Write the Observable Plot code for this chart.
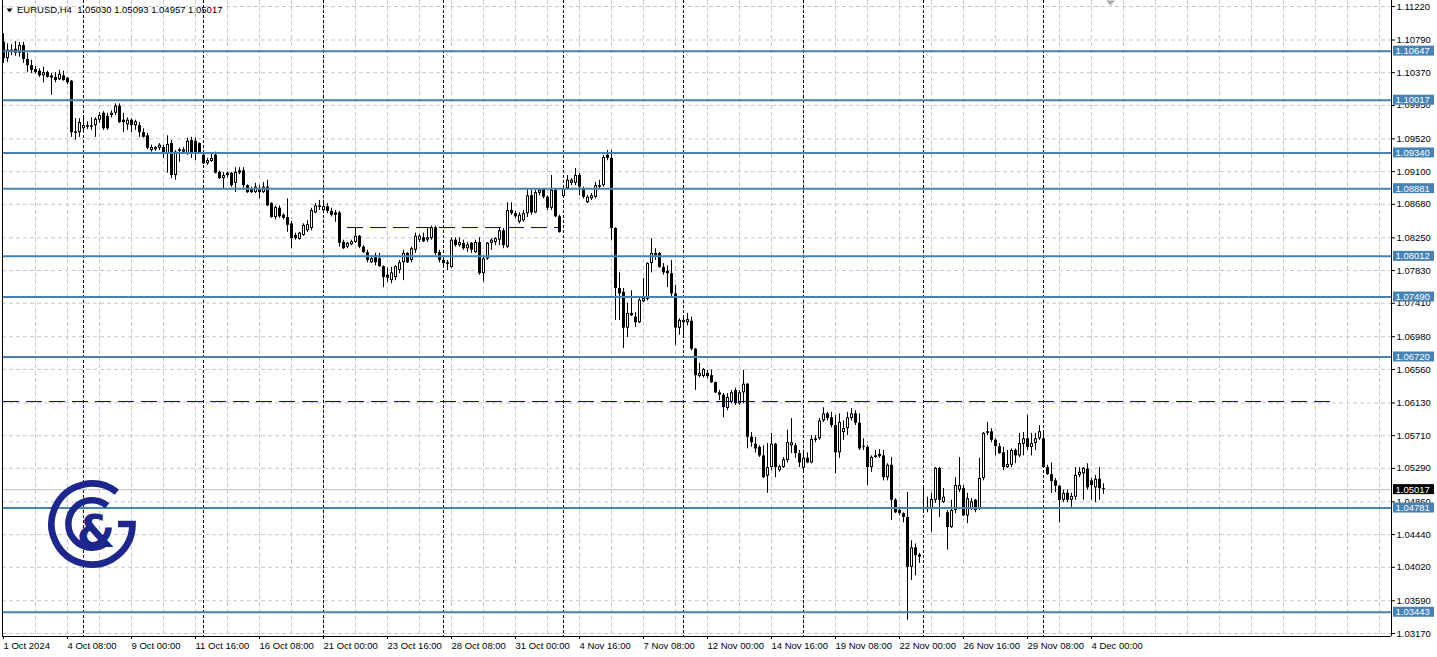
<!DOCTYPE html>
<html><head><meta charset="utf-8">
<script src="https://cdn.jsdelivr.net/npm/d3@7"></script>
<script src="https://cdn.jsdelivr.net/npm/@observablehq/plot@0.6"></script>
<style>
html,body{margin:0;padding:0;background:#fff;}
#chart svg{display:block;}
</style>
</head><body><div id="chart"></div>
<script>
// ---- data: EURUSD H4 candles (bar 0 = 1 Oct 2024) ----
const open = [
1.1076,1.1055,1.1063,1.1067,1.1062,1.1072,1.1054,1.1046,1.1041,1.1039,
1.1033,1.1037,1.1033,1.1031,1.1028,1.1033,1.1030,1.1026,1.0961,1.0960,
1.0965,1.0969,1.0969,1.0969,1.0976,1.0985,1.0981,1.0982,1.0985,1.0994,
1.0976,1.0970,1.0976,1.0969,1.0969,1.0960,1.0956,1.0937,1.0938,1.0940,
1.0941,1.0933,1.0946,1.0905,1.0936,1.0935,1.0933,1.0950,1.0949,1.0946,
1.0931,1.0920,1.0923,1.0931,1.0909,1.0901,1.0908,1.0908,1.0895,1.0911,
1.0911,1.0892,1.0888,1.0883,1.0888,1.0883,1.0890,1.0869,1.0851,1.0863,
1.0854,1.0851,1.0843,1.0828,1.0823,1.0828,1.0834,1.0837,1.0857,1.0866,
1.0860,1.0865,1.0859,1.0857,1.0857,1.0819,1.0813,1.0816,1.0819,1.0827,
1.0813,1.0806,1.0793,1.0802,1.0798,1.0788,1.0777,1.0770,1.0774,1.0783,
1.0793,1.0805,1.0796,1.0809,1.0822,1.0825,1.0822,1.0824,1.0838,1.0806,
1.0796,1.0793,1.0787,1.0822,1.0815,1.0818,1.0811,1.0818,1.0806,1.0819,
1.0779,1.0798,1.0818,1.0819,1.0822,1.0834,1.0813,1.0860,1.0856,1.0845,
1.0847,1.0856,1.0879,1.0857,1.0882,1.0887,1.0877,1.0863,1.0886,1.0852,
1.0878,1.0888,1.0895,1.0895,1.0905,1.0888,1.0870,1.0875,1.0877,1.0890,
1.0892,1.0931,1.0927,1.0837,1.0760,1.0755,1.0709,1.0728,1.0723,1.0716,
1.0743,1.0746,1.0792,1.0802,1.0805,1.0787,1.0782,1.0779,1.0753,1.0709,
1.0716,1.0716,1.0718,1.0682,1.0647,1.0647,1.0651,1.0648,1.0639,1.0626,
1.0623,1.0606,1.0614,1.0629,1.0612,1.0626,1.0637,1.0569,1.0560,1.0556,
1.0545,1.0519,1.0530,1.0560,1.0526,1.0530,1.0539,1.0558,1.0558,1.0548,
1.0529,1.0542,1.0536,1.0565,1.0567,1.0590,1.0599,1.0594,1.0584,1.0549,
1.0575,1.0580,1.0593,1.0599,1.0587,1.0557,1.0556,1.0530,1.0543,1.0547,
1.0545,1.0517,1.0533,1.0488,1.0475,1.0471,1.0466,1.0402,1.0427,1.0418,
1.0477,1.0479,1.0477,1.0488,1.0529,1.0485,1.0472,1.0453,1.0475,1.0501,
1.0503,1.0468,1.0477,1.0488,1.0477,1.0516,1.0574,1.0576,1.0565,1.0557,
1.0549,1.0530,1.0533,1.0552,1.0545,1.0560,1.0567,1.0556,1.0561,1.0567,
1.0567,1.0530,1.0521,1.0513,1.0506,1.0488,1.0497,1.0488,1.0492,1.0520,
1.0522,1.0528,1.0513,1.0504,1.0515,1.05030];
const high = [
1.1087,1.1074,1.1073,1.1077,1.1076,1.1076,1.1062,1.1053,1.1045,1.1042,
1.1044,1.1039,1.1036,1.1037,1.1040,1.1039,1.1031,1.1027,1.0978,1.0978,
1.0982,1.0974,1.0979,1.0979,1.0986,1.0987,1.0985,1.0988,1.0997,1.0997,
1.0985,1.0979,1.0978,1.0976,1.0973,1.0965,1.0959,1.0944,1.0942,1.0946,
1.0944,1.0956,1.0950,1.0937,1.0940,1.0941,1.0953,1.0954,1.0953,1.0947,
1.0935,1.0927,1.0933,1.0935,1.0911,1.0909,1.0909,1.0909,1.0915,1.0915,
1.0915,1.0893,1.0890,1.0895,1.0892,1.0896,1.0899,1.0870,1.0866,1.0866,
1.0856,1.0875,1.0846,1.0831,1.0832,1.0843,1.0847,1.0863,1.0869,1.0873,
1.0872,1.0869,1.0863,1.0860,1.0859,1.0822,1.0819,1.0822,1.0838,1.0828,
1.0815,1.0809,1.0802,1.0805,1.0805,1.0789,1.0786,1.0787,1.0789,1.0796,
1.0809,1.0806,1.0813,1.0831,1.0829,1.0831,1.0837,1.0840,1.0840,1.0809,
1.0800,1.0796,1.0825,1.0825,1.0825,1.0822,1.0819,1.0819,1.0822,1.0825,
1.0800,1.0819,1.0824,1.0825,1.0837,1.0837,1.0870,1.0870,1.0859,1.0857,
1.0860,1.0888,1.0886,1.0886,1.0888,1.0888,1.0879,1.0905,1.0888,1.0854,
1.0892,1.0905,1.0901,1.0914,1.0908,1.0890,1.0879,1.0882,1.0896,1.0899,
1.0931,1.0937,1.0937,1.0838,1.0780,1.0760,1.0741,1.0757,1.0729,1.0747,
1.0773,1.0793,1.0824,1.0811,1.0806,1.0792,1.0789,1.0796,1.0764,1.0721,
1.0723,1.0728,1.0723,1.0683,1.0664,1.0657,1.0655,1.0655,1.0640,1.0629,
1.0625,1.0625,1.0629,1.0632,1.0629,1.0655,1.0638,1.0575,1.0569,1.0558,
1.0558,1.0561,1.0574,1.0561,1.0533,1.0543,1.0578,1.0593,1.0561,1.0552,
1.0549,1.0549,1.0571,1.0571,1.0593,1.0607,1.0601,1.0601,1.0597,1.0599,
1.0590,1.0601,1.0606,1.0603,1.0599,1.0567,1.0558,1.0545,1.0552,1.0553,
1.0552,1.0535,1.0543,1.0490,1.0477,1.0472,1.0498,1.0436,1.0432,1.0420,
1.0504,1.0492,1.0497,1.0530,1.0530,1.0503,1.0475,1.0488,1.0517,1.0543,
1.0507,1.0497,1.0490,1.0489,1.0542,1.0575,1.0588,1.0580,1.0567,1.0561,
1.0556,1.0552,1.0554,1.0554,1.0574,1.0575,1.0597,1.0574,1.0574,1.0584,
1.0574,1.0533,1.0536,1.0516,1.0507,1.0501,1.0501,1.0497,1.0530,1.0530,
1.0530,1.0535,1.0516,1.0520,1.0530,1.05093];
const low = [
1.1049,1.1050,1.1059,1.1058,1.1057,1.1049,1.1037,1.1036,1.1035,1.1031,
1.1024,1.1030,1.1008,1.1024,1.1027,1.1026,1.1022,1.0954,1.0950,1.0954,
1.0959,1.0964,1.0963,1.0954,1.0972,1.0963,1.0963,1.0979,1.0982,1.0972,
1.0960,1.0963,1.0960,1.0963,1.0954,1.0953,1.0938,1.0935,1.0936,1.0937,
1.0927,1.0908,1.0901,1.0899,1.0922,1.0932,1.0931,1.0927,1.0924,1.0932,
1.0919,1.0918,1.0922,1.0907,1.0900,1.0888,1.0902,1.0890,1.0883,1.0906,
1.0888,1.0882,1.0882,1.0882,1.0875,1.0882,1.0865,1.0850,1.0848,1.0850,
1.0848,1.0832,1.0811,1.0822,1.0822,1.0827,1.0832,1.0834,1.0856,1.0860,
1.0857,1.0856,1.0852,1.0845,1.0813,1.0810,1.0811,1.0815,1.0818,1.0811,
1.0805,1.0793,1.0792,1.0789,1.0787,1.0761,1.0768,1.0766,1.0770,1.0779,
1.0770,1.0792,1.0793,1.0805,1.0819,1.0819,1.0819,1.0822,1.0802,1.0793,
1.0786,1.0783,1.0786,1.0813,1.0813,1.0809,1.0806,1.0805,1.0805,1.0777,
1.0768,1.0796,1.0809,1.0815,1.0815,1.0811,1.0811,1.0854,1.0850,1.0843,
1.0845,1.0851,1.0854,1.0856,1.0879,1.0875,1.0860,1.0860,1.0851,1.0831,
1.0877,1.0886,1.0892,1.0892,1.0879,1.0875,1.0869,1.0873,1.0875,1.0888,
1.0890,1.0924,1.0822,1.0719,1.0719,1.0683,1.0697,1.0724,1.0710,1.0715,
1.0742,1.0744,1.0780,1.0796,1.0786,1.0777,1.0761,1.0747,1.0687,1.0700,
1.0700,1.0712,1.0680,1.0629,1.0645,1.0645,1.0644,1.0638,1.0625,1.0616,
1.0594,1.0603,1.0612,1.0610,1.0610,1.0612,1.0554,1.0556,1.0549,1.0543,
1.0516,1.0497,1.0526,1.0517,1.0524,1.0529,1.0536,1.0548,1.0542,1.0530,
1.0526,1.0535,1.0535,1.0562,1.0565,1.0588,1.0590,1.0581,1.0522,1.0542,
1.0565,1.0571,1.0590,1.0584,1.0552,1.0552,1.0507,1.0524,1.0542,1.0542,
1.0513,1.0513,1.0462,1.0471,1.0468,1.0459,1.0334,1.0385,1.0391,1.0407,
1.0475,1.0472,1.0447,1.0484,1.0466,1.0484,1.0424,1.0452,1.0471,1.0498,
1.0467,1.0458,1.0475,1.0472,1.0475,1.0513,1.0571,1.0562,1.0545,1.0547,
1.0526,1.0529,1.0530,1.0535,1.0543,1.0545,1.0552,1.0545,1.0552,1.0565,
1.0529,1.0520,1.0497,1.0498,1.0459,1.0485,1.0485,1.0479,1.0488,1.0517,
1.0488,1.0501,1.0488,1.0485,1.0488,1.04957];
const close = [
1.1055,1.1066,1.1066,1.1062,1.1072,1.1054,1.1046,1.1040,1.1037,1.1033,
1.1037,1.1031,1.1030,1.1027,1.1035,1.1027,1.1024,1.0960,1.0959,1.0973,
1.0969,1.0967,1.0967,1.0977,1.0982,1.0965,1.0965,1.0985,1.0994,1.0973,
1.0973,1.0976,1.0969,1.0974,1.0960,1.0954,1.0940,1.0941,1.0941,1.0944,
1.0933,1.0945,1.0905,1.0935,1.0938,1.0938,1.0949,1.0933,1.0933,1.0933,
1.0920,1.0924,1.0927,1.0908,1.0901,1.0905,1.0905,1.0892,1.0909,1.0908,
1.0892,1.0883,1.0883,1.0890,1.0883,1.0890,1.0866,1.0851,1.0864,1.0852,
1.0850,1.0841,1.0824,1.0824,1.0831,1.0841,1.0842,1.0860,1.0866,1.0864,
1.0865,1.0859,1.0854,1.0854,1.0818,1.0811,1.0818,1.0820,1.0827,1.0813,
1.0806,1.0796,1.0798,1.0793,1.0788,1.0774,1.0773,1.0780,1.0788,1.0793,
1.0805,1.0793,1.0811,1.0827,1.0827,1.0820,1.0825,1.0838,1.0805,1.0796,
1.0792,1.0791,1.0822,1.0815,1.0819,1.0811,1.0816,1.0809,1.0819,1.0779,
1.0798,1.0818,1.0822,1.0824,1.0834,1.0815,1.0860,1.0856,1.0852,1.0854,
1.0856,1.0879,1.0857,1.0883,1.0886,1.0877,1.0863,1.0886,1.0852,1.0832,
1.0888,1.0899,1.0899,1.0905,1.0890,1.0877,1.0877,1.0879,1.0892,1.0892,
1.0928,1.0927,1.0837,1.0760,1.0753,1.0709,1.0728,1.0725,1.0716,1.0745,
1.0747,1.0792,1.0805,1.0805,1.0787,1.0780,1.0779,1.0753,1.0709,1.0719,
1.0719,1.0720,1.0682,1.0648,1.0651,1.0656,1.0647,1.0639,1.0626,1.0623,
1.0607,1.0620,1.0626,1.0612,1.0626,1.0637,1.0569,1.0562,1.0554,1.0545,
1.0517,1.0530,1.0560,1.0530,1.0531,1.0540,1.0562,1.0562,1.0548,1.0536,
1.0542,1.0536,1.0566,1.0567,1.0590,1.0599,1.0593,1.0584,1.0549,1.0588,
1.0580,1.0594,1.0599,1.0587,1.0554,1.0556,1.0530,1.0543,1.0545,1.0544,
1.0517,1.0533,1.0488,1.0472,1.0471,1.0466,1.0402,1.0427,1.0417,1.0415,
1.0476,1.0476,1.0489,1.0529,1.0488,1.0492,1.0453,1.0475,1.0507,1.0507,
1.0468,1.0490,1.0486,1.0475,1.0516,1.0574,1.0576,1.0565,1.0557,1.0548,
1.0530,1.0534,1.0552,1.0545,1.0561,1.0567,1.0556,1.0561,1.0567,1.0576,
1.0530,1.0521,1.0512,1.0506,1.0488,1.0497,1.0488,1.0493,1.0520,1.0524,
1.0529,1.0504,1.0507,1.0515,1.0503,1.05017];

const priceTicks = [1.11220,1.10790,1.10370,1.09950,1.09520,1.09100,1.08680,1.08250,1.07830,1.07410,
  1.06980,1.06560,1.06130,1.05710,1.05290,1.04860,1.04440,1.04020,1.03590,1.03170];
const levels = [1.10647,1.10017,1.09340,1.08881,1.08012,1.07490,1.06720,1.04781,1.03443];
const lastPrice = 1.05017;
const dashedPrices = [1.06148, 1.08382];
const dashedFromBar = [0, 86];
const dashedToBar = [332, 139];
const dateLabels = ["1 Oct 2024","4 Oct 08:00","9 Oct 00:00","11 Oct 16:00","16 Oct 08:00","21 Oct 00:00",
  "23 Oct 16:00","28 Oct 08:00","31 Oct 00:00","4 Nov 16:00","7 Nov 08:00","12 Nov 00:00",
  "14 Nov 16:00","19 Nov 08:00","22 Nov 00:00","26 Nov 16:00","29 Nov 08:00","4 Dec 00:00"];
const dateLabelBars = [0,16,32,48,64,80,96,112,128,144,160,176,192,208,224,240,256,272];
const weekStartBars = [20,50,80,110,140,170,200,230,260];
const headerSymbol = "EURUSD,H4";
const headerOHLC = [1.05030, 1.05093, 1.04957, 1.05017];

// ---- build ----
const bars = close.map((c, i) => ({i, o: open[i], h: high[i], l: low[i], c}));
const gridBars = d3.range(8, 345, 8);
const dashed = dashedPrices.map((p, k) => ({p, a: dashedFromBar[k], b: dashedToBar[k]}));
const xDom = [-0.25, 347];
const yDom = [1.031316, 1.11297];
const minBody = 0.00013;
const bodyTop = d => Math.max(d.o, d.c, Math.min(d.o, d.c) + minBody);
const bodyBot = d => Math.min(d.o, d.c);
const labelOf = new Map(dateLabelBars.map((b, k) => [b, dateLabels[k]]));
// body spans 3 whole pixels centred on the wick
const bx1 = d => d.i - 0.25, bx2 = d => d.i + 0.5;

const FONT = "'Liberation Sans', Arial, sans-serif";
const plot = Plot.plot({
  width: 1437, height: 657,
  marginLeft: 2, marginRight: 46, marginTop: 0, marginBottom: 21,
  style: {fontFamily: FONT, fontSize: "9.5px", background: "white", color: "black"},
  x: {domain: xDom, axis: null},
  y: {domain: yDom, axis: null},
  marks: [
    Plot.ruleX(gridBars, {stroke: "#c8c8c8", strokeDasharray: "4,3"}),
    Plot.ruleY(priceTicks, {stroke: "#c8c8c8", strokeDasharray: "4,3"}),
    Plot.ruleX(weekStartBars, {stroke: "black", strokeDasharray: "3,2"}),
    Plot.ruleY([lastPrice], {stroke: "#c0c0c0"}),
    Plot.ruleX(bars, {x: "i", y1: "l", y2: "h", stroke: "black"}),
    Plot.rect(bars, {x1: bx1, x2: bx2, y1: bodyBot, y2: bodyTop, fill: "black"}),
    Plot.rect(bars, {filter: d => d.c > d.o, x1: bx1, x2: bx2, y1: bodyBot, y2: bodyTop, fill: "white", inset: 1}),
    Plot.ruleY(levels, {stroke: "#4682b4", strokeWidth: 2}),
    Plot.ruleY(dashed, {y: "p", x1: "a", x2: "b", stroke: "#000080", strokeDasharray: "16,7"}),
    Plot.ruleX(xDom, {stroke: "black"}),
    Plot.ruleY([yDom[0]], {stroke: "black"}),
    Plot.axisY(priceTicks, {anchor: "right", tickSize: 3, tickPadding: 2, textAnchor: "start", label: null, tickFormat: d => d.toFixed(5)}),
    Plot.axisX(dateLabelBars, {anchor: "bottom", tickSize: 3, tickPadding: 3, textAnchor: "start", label: null, tickFormat: d => labelOf.get(d)})
  ]
});
document.getElementById("chart").append(plot);

// ---- overlays: price tags, header, logo ----
const svg = d3.select(plot);
const ys = plot.scale("y");
const tags = svg.append("g").attr("font-family", FONT).attr("font-size", "9.5px").attr("text-anchor", "start");
function tag(v, fill) {
  const yy = ys.apply(v);
  tags.append("rect").attr("x", 1393).attr("y", yy - 5).attr("width", 41).attr("height", 10).attr("fill", fill);
  tags.append("text").attr("x", 1395.5).attr("y", yy).attr("dy", "0.36em").attr("fill", "white").text(v.toFixed(5));
}
levels.forEach(v => tag(v, "#4682b4"));
tag(lastPrice, "black");

const hdr = svg.append("g").attr("font-family", FONT).attr("font-size", "9.5px").attr("text-anchor", "start");
hdr.append("path").attr("d", "M6.5,8.5 L12.5,8.5 L9.5,12.5 Z").attr("fill", "black");
hdr.append("text").attr("x", 17).attr("y", 13.3).style("white-space", "pre").attr("fill", "black")
  .text(headerSymbol + "  " + headerOHLC.map(v => v.toFixed(5)).join(" "));

// chart-shift marker
svg.append("path").attr("d", "M1106,0.5 L1115,0.5 L1110.5,5.5 Z").attr("fill", "#a8a8a8");

// logo
const LC = "#1d268c";
const logo = svg.append("g");
logo.append("path").attr("d", "M116.9,492.1 A40.5,40.5 0 1 0 132.5,524 L118,524")
  .attr("fill", "none").attr("stroke", LC).attr("stroke-width", 6.7);
logo.append("path").attr("d", "M107.2,505.8 A23.7,23.7 0 1 0 107.2,542.2")
  .attr("fill", "none").attr("stroke", LC).attr("stroke-width", 6.5);
logo.append("text").attr("x", 96).attr("y", 547).attr("text-anchor", "middle")
  .attr("font-family", "'DejaVu Sans', sans-serif").attr("font-weight", "bold").attr("font-size", "44px")
  .attr("fill", LC).text("&");
</script>
</body></html>
